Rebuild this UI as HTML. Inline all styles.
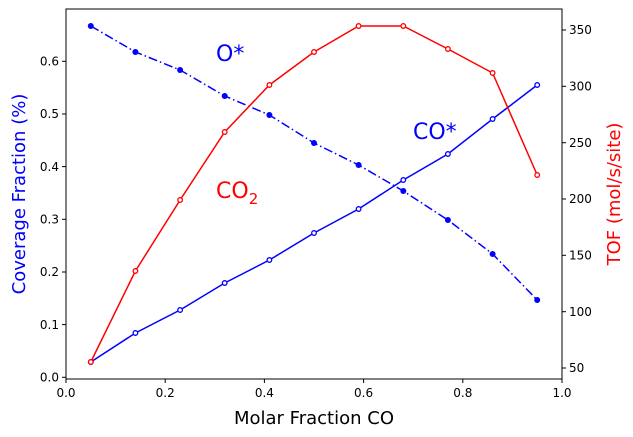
<!DOCTYPE html><html><head><style>body{margin:0;background:#fff}svg{display:block;font-family:"DejaVu Sans","Liberation Sans",sans-serif}</style></head><body>
<svg width="633" height="437" viewBox="0 0 633 437">
<rect x="66" y="9" width="496" height="370" fill="none" stroke="#000" stroke-width="1"/>
<g stroke="#000" stroke-width="1">
<line x1="66" y1="379" x2="66" y2="383"/><line x1="165.2" y1="379" x2="165.2" y2="383"/><line x1="264.4" y1="379" x2="264.4" y2="383"/><line x1="363.6" y1="379" x2="363.6" y2="383"/><line x1="462.8" y1="379" x2="462.8" y2="383"/><line x1="562" y1="379" x2="562" y2="383"/>
<line x1="62" y1="377.3" x2="66" y2="377.3"/><line x1="62" y1="324.6" x2="66" y2="324.6"/><line x1="62" y1="272" x2="66" y2="272"/><line x1="62" y1="219.3" x2="66" y2="219.3"/><line x1="62" y1="166.6" x2="66" y2="166.6"/><line x1="62" y1="114" x2="66" y2="114"/><line x1="62" y1="61.3" x2="66" y2="61.3"/>
<line x1="562" y1="368" x2="566" y2="368"/><line x1="562" y1="311.7" x2="566" y2="311.7"/><line x1="562" y1="255.3" x2="566" y2="255.3"/><line x1="562" y1="199" x2="566" y2="199"/><line x1="562" y1="142.7" x2="566" y2="142.7"/><line x1="562" y1="86.3" x2="566" y2="86.3"/><line x1="562" y1="30" x2="566" y2="30"/>
</g>
<g font-size="12" fill="#000" text-anchor="middle">
<text x="66" y="397">0.0</text><text x="165.2" y="397">0.2</text><text x="264.4" y="397">0.4</text><text x="363.6" y="397">0.6</text><text x="462.8" y="397">0.8</text><text x="562" y="397">1.0</text>
</g>
<g font-size="12" fill="#000" text-anchor="end">
<text x="59" y="381.5">0.0</text><text x="59" y="328.8">0.1</text><text x="59" y="276.2">0.2</text><text x="59" y="223.5">0.3</text><text x="59" y="170.8">0.4</text><text x="59" y="118.2">0.5</text><text x="59" y="65.5">0.6</text>
</g>
<g font-size="12" fill="#000">
<text x="569" y="372.2">50</text><text x="569" y="315.9">100</text><text x="569" y="259.5">150</text><text x="569" y="203.2">200</text><text x="569" y="146.9">250</text><text x="569" y="90.5">300</text><text x="569" y="34.2">350</text>
</g>
<text x="314" y="424" font-size="18" text-anchor="middle">Molar Fraction CO</text>
<text transform="translate(25,194) rotate(-90)" font-size="18" fill="blue" text-anchor="middle">Coverage Fraction (%)</text>
<text transform="translate(620,194) rotate(-90)" font-size="18" fill="red" text-anchor="middle">TOF (mol/s/site)</text>
<text x="216" y="61" font-size="22" fill="blue">O*</text>
<text x="413" y="139" font-size="22" fill="blue">CO*</text>
<text x="216" y="198" font-size="22" fill="red">CO<tspan font-size="15" dy="6">2</tspan></text>
<g fill="none" stroke-width="1.5">
<polyline stroke="blue" points="90.8,362 135.4,333 180.1,310 224.7,283 269.4,260 314,233 358.6,209 403.3,180 447.9,154 492.6,119 537.2,85"/>
<polyline stroke="blue" stroke-dasharray="9,3,1.5,3" points="90.8,26 135.4,52 180.1,70 224.7,96 269.4,115 314,143 358.6,165 403.3,191 447.9,220 492.6,254 537.2,300"/>
<polyline stroke="red" points="90.8,362 135.4,271 180.1,200 224.7,132 269.4,85 314,52 358.6,26 403.3,26 447.9,49 492.6,73 537.2,175"/>
</g>
<g fill="#fff" stroke="blue" stroke-width="1.3">
<circle cx="90.8" cy="362" r="2.3"/><circle cx="135.4" cy="333" r="2.3"/><circle cx="180.1" cy="310" r="2.3"/><circle cx="224.7" cy="283" r="2.3"/><circle cx="269.4" cy="260" r="2.3"/><circle cx="314" cy="233" r="2.3"/><circle cx="358.6" cy="209" r="2.3"/><circle cx="403.3" cy="180" r="2.3"/><circle cx="447.9" cy="154" r="2.3"/><circle cx="492.6" cy="119" r="2.3"/><circle cx="537.2" cy="85" r="2.3"/>
</g>
<g fill="blue">
<circle cx="90.8" cy="26" r="3"/><circle cx="135.4" cy="52" r="3"/><circle cx="180.1" cy="70" r="3"/><circle cx="224.7" cy="96" r="3"/><circle cx="269.4" cy="115" r="3"/><circle cx="314" cy="143" r="3"/><circle cx="358.6" cy="165" r="3"/><circle cx="403.3" cy="191" r="3"/><circle cx="447.9" cy="220" r="3"/><circle cx="492.6" cy="254" r="3"/><circle cx="537.2" cy="300" r="3"/>
</g>
<g fill="#fff" stroke="red" stroke-width="1.3">
<circle cx="90.8" cy="362" r="2.3"/><circle cx="135.4" cy="271" r="2.3"/><circle cx="180.1" cy="200" r="2.3"/><circle cx="224.7" cy="132" r="2.3"/><circle cx="269.4" cy="85" r="2.3"/><circle cx="314" cy="52" r="2.3"/><circle cx="358.6" cy="26" r="2.3"/><circle cx="403.3" cy="26" r="2.3"/><circle cx="447.9" cy="49" r="2.3"/><circle cx="492.6" cy="73" r="2.3"/><circle cx="537.2" cy="175" r="2.3"/>
</g>
</svg></body></html>
